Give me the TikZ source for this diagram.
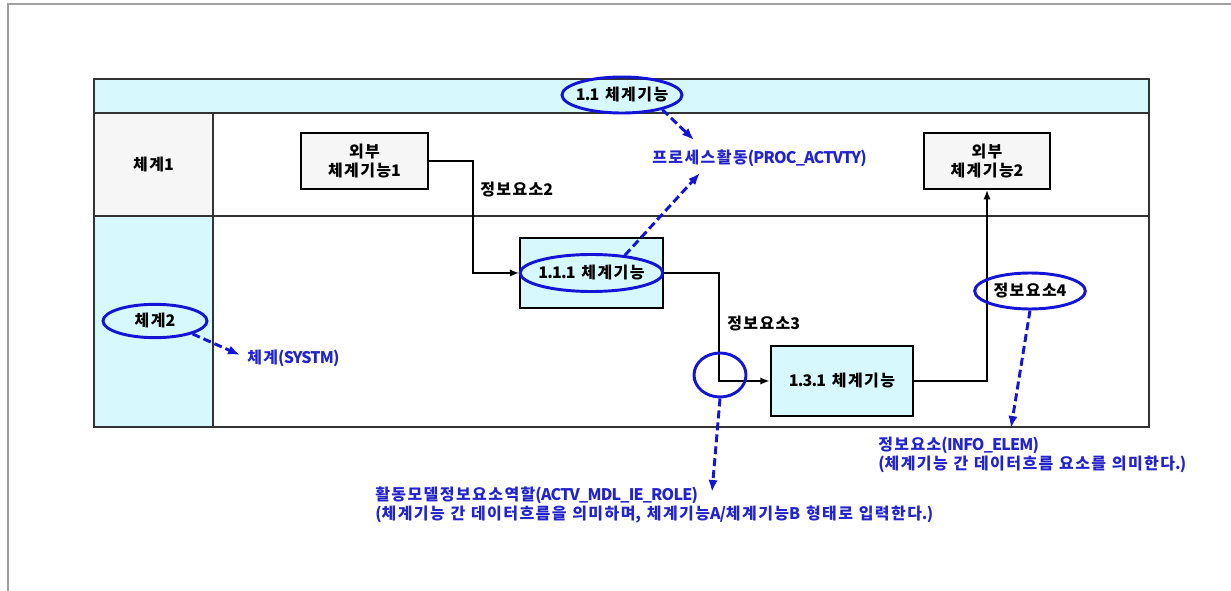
\documentclass[tikz,border=0pt]{standalone}
\usepackage{fontspec}
\setmainfont{Noto Sans CJK KR}[LetterSpace=-5, WordSpace=2]
\newfontfamily\hgfont{Noto Sans CJK KR}[LetterSpace=9, WordSpace=2]
% Hangul syllables get a wider tracking, as in the source
\XeTeXinterchartokenstate=1
\newXeTeXintercharclass\hgclass
\count255="AC00
\loop
    \XeTeXcharclass\count255=\hgclass
    \ifnum\count255<"D7A3 \advance\count255 by 1
\repeat
\XeTeXinterchartoks 0 \hgclass = {\hgfont}
\XeTeXinterchartoks 4095 \hgclass = {\hgfont}
\XeTeXinterchartoks \hgclass 0 = {\rmfamily}
\XeTeXinterchartoks \hgclass 4095 = {\rmfamily}
\usetikzlibrary{shapes.geometric, arrows.meta, positioning, calc}
\definecolor{hdcyan}{RGB}{215,248,252}
\definecolor{lanegray}{RGB}{246,246,246}
\definecolor{tagblue}{RGB}{20,20,215}
\definecolor{noteblue}{RGB}{35,35,205}
\definecolor{framegray}{RGB}{160,160,160}
\tikzset{
    txt/.style={font=\bfseries\fontsize{12}{14}\selectfont},
    extfn/.style={
        rectangle, draw=black, fill=lanegray,
        minimum width=95pt, minimum height=42pt,
        align=center, line width=1.6pt, txt,
    },
    sysfn/.style={
        rectangle, draw=black, fill=hdcyan,
        minimum width=107pt, minimum height=52.5pt,
        align=center, line width=1.6pt, txt,
    },
    hilite/.style={
        ellipse, draw=tagblue, line width=2.2pt,
        inner sep=0pt, txt,
    },
    note/.style={text=noteblue, align=left, inner sep=0pt, txt},
    flowlbl/.style={inner sep=0pt, txt},
    tblline/.style={line width=0.8pt, draw=black!80},
    flow/.style={-{Latex[length=7pt,width=5.5pt]}, line width=1.2pt, draw=black},
    link/.style={-{Latex[length=9pt,width=7pt]}, line width=2.2pt, draw=tagblue, dash pattern=on 6pt off 3pt},
}
\begin{document}
\begin{tikzpicture}[x=0.75pt, y=-0.75pt]
    \useasboundingbox (0,0) rectangle (1231,591);
    % page frame
    \draw[framegray, line width=2pt] (8,591) -- (8,4) -- (1231,4);

    % swimlane table
    \fill[hdcyan] (94,79) rectangle (1149,113);
    \fill[lanegray] (94,113) rectangle (213,216);
    \fill[hdcyan] (94,216) rectangle (213,427);
    \draw[tblline] (94,79) rectangle (1149,427);
    \draw[tblline] (94,113) -- (1149,113);
    \draw[tblline] (94,216) -- (1149,216);
    \draw[tblline] (213,113) -- (213,427);

    \node[flowlbl] (lane1) at (153.5,164.5) {체계1};
    \node[hilite, minimum width=78pt, minimum height=25pt] (lane2) at (155,321) {체계2};
    \node[hilite, inner xsep=-3pt, minimum width=90pt, minimum height=27pt] (top11) at (622,95) {1.1 체계기능};

    % functions
    \node[extfn] (ext1) at (364.5,161) {외부\\체계기능1};
    \node[extfn] (ext2) at (987,161) {외부\\체계기능2};
    \node[sysfn] (fn111) at (591.5,273) {};
    \node[hilite, inner xsep=-2pt, minimum width=103.5pt, minimum height=27.75pt] (tag111) at (fn111) {1.1.1 체계기능};
    \node[sysfn] (fn131) at (842,381) {1.3.1 체계기능};

    \draw[flow] (ext1.east) -- ++(44,0) |- (fn111.west);
    \draw[flow] (fn111.east) -- ++(55,0) |- (fn131.west);
    \draw[flow] (fn131.east) -| (ext2.south);

    \node[flowlbl, anchor=west] (ie2) at (480,190) {정보요소2};
    \node[flowlbl, anchor=west] (ie3) at (727,324) {정보요소3};
    \node[hilite, minimum width=39pt, minimum height=33pt] (role) at (720,375) {};
    \node[hilite, minimum width=83pt, minimum height=27pt] (ie4) at (1030,291) {정보요소4};

    % notes
    \node[note, anchor=west] (proc) at (652,158) {프로세스활동(PROC\_ACTVTY)};
    \node[note, anchor=west] (systm) at (247,358) {체계(SYSTM)};
    \node[note, anchor=north west] (infonote) at (878,437) {정보요소(INFO\_ELEM)\\(체계기능 간 데이터흐름 요소를 의미한다.)};
    \node[note, anchor=north west] (rolenote) at (375,487) {활동모델정보요소역할(ACTV\_MDL\_IE\_ROLE)\\(체계기능 간 데이터흐름을 의미하며, 체계기능A/체계기능B 형태로 입력한다.)};

    \coordinate (tipA) at (694,140);
    \coordinate (tipB) at (700,173);
    \coordinate (tipC) at (240,355);
    \coordinate (tipD) at (712,492);
    \coordinate (tipE) at (1011,428);

    \draw[link] (top11.-20) -- (tipA);
    \draw[link] (tag111.28) -- (tipB);
    \draw[link] (lane2.-19) -- (tipC);
    \draw[link] (role.south) -- (tipD);
    \draw[link] (ie4.south) -- (tipE);

\end{tikzpicture}
\end{document}
